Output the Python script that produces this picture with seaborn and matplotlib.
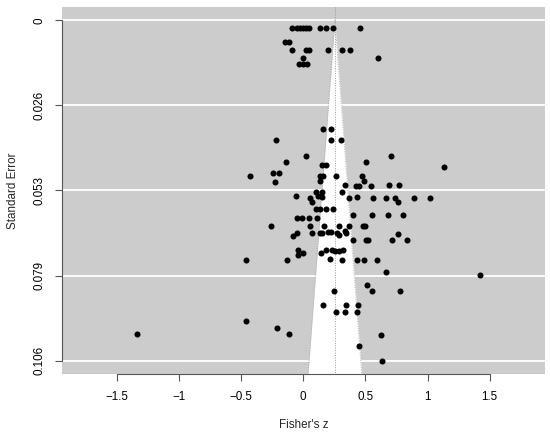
import numpy as np
import pandas as pd
import matplotlib
matplotlib.use("Agg")
import matplotlib.pyplot as plt
import seaborn as sns

# Effect sizes (Fisher's z) and standard errors
fisher_z = [
    -0.089, -0.048, -0.024, 0.000, 0.024, 0.048, 0.137, 0.185, 0.242, 0.459,
    -0.145, -0.113, -0.089, 0.024, 0.048, 0.201, 0.314, 0.378, 0.000, 0.604,
    -0.032, 0.000, 0.032,
    0.161, 0.225, -0.217, 0.225, 0.306, 0.024, 0.709, -0.137, 0.507, 0.153,
    0.181, 1.135, -0.427, -0.242, -0.193, 0.133, 0.161, 0.266, 0.475, -0.225,
    0.133, 0.487, 0.334, 0.423, 0.447, 0.544, 0.688, 0.769,
    -0.060, 0.101, 0.151, 0.310, 0.121, 0.153, 0.052, 0.073, 0.368, 0.432,
    0.561, 0.663, 0.741, 0.759, 0.888, 1.023,
    0.105, 0.137, 0.185, 0.236, 0.403, 0.556, 0.682, 0.800,
    -0.051, -0.011, 0.048, 0.113,
    -0.258, 0.056, 0.169, 0.292, 0.365, 0.478, 0.494,
    -0.081, -0.051, 0.070, 0.133, 0.155, 0.197, 0.221, 0.270, 0.290, 0.336,
    0.346, 0.761,
    0.403, 0.502, 0.521, 0.717, 0.832,
    -0.040, 0.002, -0.040, 0.141, 0.181, 0.234, 0.252, 0.288, 0.324,
    0.212, 0.310, -0.461, -0.131, 0.436, 0.487, 0.590,
    0.663, 1.423, 0.510, 0.550, 0.775, 0.247,
    0.163, 0.344, 0.437, 0.268, 0.333, 0.435,
    -0.461, -0.209, -0.118, -1.334, 0.622, 0.449, 0.630,
]
std_err = [
    0.0022, 0.0022, 0.0022, 0.0022, 0.0022, 0.0022, 0.0022, 0.0022, 0.0022, 0.0022,
    0.0068, 0.0068, 0.0093, 0.0093, 0.0093, 0.0093, 0.0093, 0.0093, 0.0118, 0.0118,
    0.0137, 0.0137, 0.0137,
    0.0339, 0.0339, 0.0374, 0.0374, 0.0374, 0.0422, 0.0422, 0.0441, 0.0441, 0.0450,
    0.0450, 0.0457, 0.0484, 0.0477, 0.0477, 0.0484, 0.0484, 0.0484, 0.0484, 0.0503,
    0.0500, 0.0500, 0.0512, 0.0516, 0.0516, 0.0516, 0.0513, 0.0513,
    0.0547, 0.0535, 0.0535, 0.0535, 0.0547, 0.0551, 0.0553, 0.0565, 0.0553, 0.0550,
    0.0553, 0.0553, 0.0553, 0.0565, 0.0553, 0.0553,
    0.0587, 0.0587, 0.0587, 0.0587, 0.0607, 0.0607, 0.0607, 0.0607,
    0.0616, 0.0616, 0.0616, 0.0616,
    0.0641, 0.0641, 0.0641, 0.0640, 0.0640, 0.0640, 0.0640,
    0.0671, 0.0662, 0.0662, 0.0662, 0.0663, 0.0660, 0.0658, 0.0664, 0.0669, 0.0655,
    0.0662, 0.0665,
    0.0685, 0.0683, 0.0683, 0.0683, 0.0683,
    0.0714, 0.0724, 0.0732, 0.0724, 0.0714, 0.0714, 0.0718, 0.0718, 0.0714,
    0.0742, 0.0746, 0.0746, 0.0748, 0.0746, 0.0746, 0.0746,
    0.0784, 0.0792, 0.0825, 0.0843, 0.0843, 0.0843,
    0.0888, 0.0888, 0.0888, 0.0910, 0.0910, 0.0910,
    0.0937, 0.0959, 0.0976, 0.0976, 0.0981, 0.1016, 0.1060,
]

pooled_estimate = 0.255
se_max = 0.106
y_ticks = [0.0, 0.0265, 0.053, 0.0795, 0.106]
y_tick_labels = ["0", "0.026", "0.053", "0.079", "0.106"]
x_ticks = [-1.5, -1, -0.5, 0, 0.5, 1, 1.5]
x_tick_labels = ["\u22121.5", "\u22121", "\u22120.5", "0", "0.5", "1", "1.5"]

df = pd.DataFrame({"z": fisher_z, "se": std_err})

sns.set_theme(style="white")
plt.rcParams["font.family"] = ["Liberation Sans", "DejaVu Sans"]

FS = 8.4

fig = plt.figure(figsize=(5.5, 4.36), dpi=100)
ax = fig.add_axes([0.1127, 0.1422, 0.8782, 0.8418])

ylo, yhi = -0.0042, se_max + 0.0042
xlo, xhi = -1.94, 1.945
ax.set_xlim(xlo, xhi)
ax.set_ylim(yhi, ylo)
ax.set_facecolor("#cccccc")

# funnel
se_grid = np.linspace(0, yhi, 50)
left = pooled_estimate - 1.96 * se_grid
right = pooled_estimate + 1.96 * se_grid
ax.fill_betweenx(se_grid, left, right, color="white", zorder=1, lw=0)
for yt in y_ticks:
    ax.axhline(yt, color="white", lw=1.3, zorder=1.5)
ax.plot(left, se_grid, color="#b0b0b0", lw=0.7, ls=(0, (1, 1.5)), zorder=2)
ax.plot(right, se_grid, color="#b0b0b0", lw=0.7, ls=(0, (1, 1.5)), zorder=2)
ax.plot([pooled_estimate, pooled_estimate], [ylo, yhi], color="#9a9a9a",
        lw=0.7, ls=(0, (1, 1.5)), zorder=2)

sns.scatterplot(data=df, x="z", y="se", ax=ax, color="black", s=19,
                edgecolor="black", linewidth=0, zorder=3, legend=False)

ax.tick_params(axis="both", direction="out", length=5, width=0.8,
               color="#555555", labelcolor="black", pad=7,
               bottom=True, left=True, labelsize=FS)
ax.set_xticks(x_ticks, labels=x_tick_labels, fontsize=FS)
ax.set_yticks(y_ticks, labels=y_tick_labels, fontsize=FS, rotation=90,
              va="center")
for sp in ["top", "right"]:
    ax.spines[sp].set_visible(False)
ax.spines["left"].set_color("#555555")
ax.spines["left"].set_linewidth(0.8)
ax.spines["left"].set_bounds(0, se_max)
ax.spines["bottom"].set_color("#555555")
ax.spines["bottom"].set_linewidth(0.8)
ax.spines["bottom"].set_bounds(-1.5, 1.5)

ax.set_xlabel("Fisher's z", fontsize=FS, labelpad=12)
ax.set_ylabel("Standard Error", fontsize=FS, labelpad=10)

fig.savefig("out.png", dpi=100)
